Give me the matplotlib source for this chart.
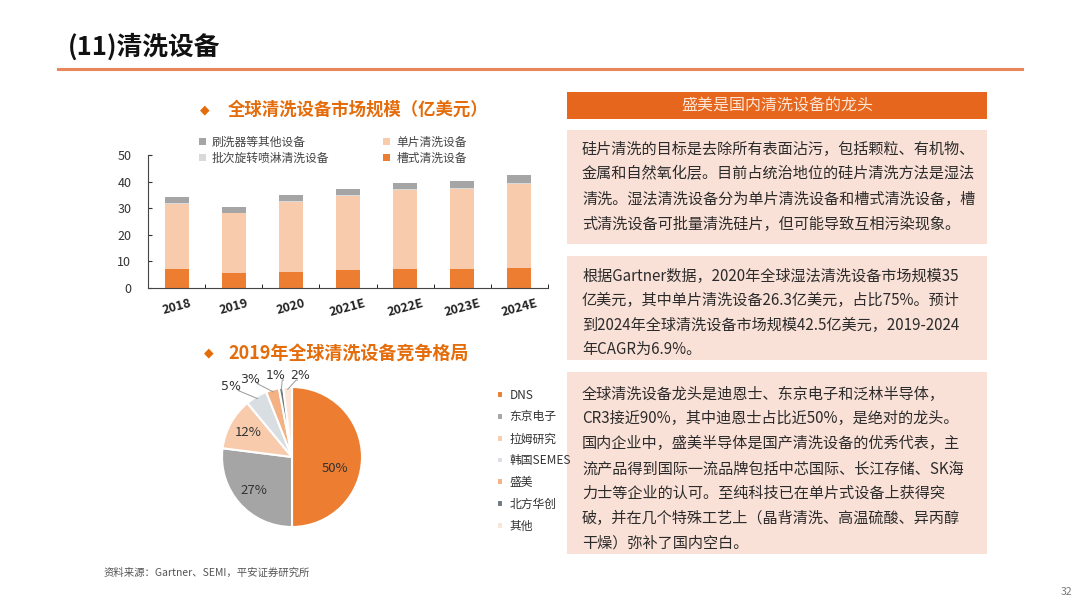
import matplotlib
matplotlib.use('Agg')
import matplotlib.pyplot as plt
from matplotlib.patches import Rectangle
import numpy as np

plt.rcParams['font.family'] = ['Noto Sans CJK SC', 'DejaVu Sans']

# bar chart data (亿美元)
years = ['2018', '2019', '2020', '2021E', '2022E', '2023E', '2024E']
tank = [7.2, 5.5, 6.2, 6.8, 7.1, 7.1, 7.5]          # 槽式清洗设备
single = [24.4, 22.6, 26.3, 27.8, 29.9, 30.3, 31.7]  # 单片清洗设备
batch = [0.2, 0.2, 0.2, 0.2, 0.2, 0.2, 0.2]          # 批次旋转喷淋清洗设备
scrubber = [2.5, 2.1, 2.4, 2.6, 2.3, 2.8, 3.0]       # 刷洗器等其他设备

# pie data (2019)
companies = ['DNS', '东京电子', '拉姆研究', '韩国SEMES', '盛美', '北方华创', '其他']
shares = [50, 27, 12, 5, 3, 1, 2]
pie_colors = ['#ED7D31', '#A5A5A5', '#F8CBAD', '#D9DEE3', '#F4B183', '#6F7A80', '#FBE5D6']

orange = '#E46C0A'
pink = '#FAE1D7'
W, H = 1080, 607

fig = plt.figure(figsize=(10.8, 6.07), dpi=100)

def px(x, y):
    return x / W, 1 - y / H

# page title and rule
fig.text(*px(68, 47), '(11)清洗设备', fontsize=18.5, fontweight='bold', va='center', ha='left', color='#111111')
fig.add_artist(plt.Line2D([58 / W, 1022 / W], [1 - 69 / H] * 2, color='#E8875A', lw=2.2))

# bar chart title
fig.text(*px(205, 110), '◆', fontsize=9, color=orange, va='center', ha='center', family='DejaVu Sans')
fig.text(*px(228, 110), '全球清洗设备市场规模（亿美元）', fontsize=12.5, fontweight='bold', color=orange, va='center')

# stacked bars
ax = fig.add_axes([148 / W, 1 - 288 / H, 400 / W, 133 / H])
x = np.arange(len(years))
bw = 0.42
b1 = ax.bar(x, tank, bw, color='#ED7D31', label='槽式清洗设备')
b2 = ax.bar(x, single, bw, bottom=tank, color='#F8CBAD', label='单片清洗设备')
bot3 = np.array(tank) + np.array(single)
b3 = ax.bar(x, batch, bw, bottom=bot3, color='#D9D9D9', label='批次旋转喷淋清洗设备')
b4 = ax.bar(x, scrubber, bw, bottom=bot3 + np.array(batch), color='#A5A5A5', label='刷洗器等其他设备')
ax.set_xlim(-0.5, len(years) - 0.5)
ax.set_ylim(0, 50)
ax.set_yticks([0, 10, 20, 30, 40, 50])
ax.tick_params(axis='y', direction='in', length=3, labelsize=9, colors='#333333', pad=12)
ax.set_xticks(x)
ax.set_xticklabels(years, rotation=15, fontsize=9, fontweight='bold', color='#222222')
ax.tick_params(axis='x', length=0, pad=6)
ax.set_xticks(np.arange(-0.5, len(years), 1), minor=True)
ax.tick_params(axis='x', which='minor', direction='in', length=3)
for s in ['top', 'right']:
    ax.spines[s].set_visible(False)
ax.spines['left'].set_color('#444444')
ax.spines['bottom'].set_color('#444444')
# legend fills column by column
leg = fig.legend([b4, b3, b2, b1], ['刷洗器等其他设备', '批次旋转喷淋清洗设备', '单片清洗设备', '槽式清洗设备'],
                 ncol=2, loc='center left', bbox_to_anchor=(188 / W, 1 - 150 / H), frameon=False,
                 fontsize=8.5, handlelength=0.6, handleheight=0.6, handletextpad=0.5,
                 columnspacing=4.6, labelspacing=0.25)
for t in leg.get_texts():
    t.set_color('#444444')

# pie title
fig.text(*px(209, 353), '◆', fontsize=9, color=orange, va='center', ha='center', family='DejaVu Sans')
fig.text(*px(228, 353), '2019年全球清洗设备竞争格局', fontsize=13, fontweight='bold', color=orange, va='center')

# pie
pax = fig.add_axes([222 / W, 1 - 527 / H, 140 / W, 140 / H])
wedges, _ = pax.pie(shares, colors=pie_colors, startangle=90, counterclock=False,
                    wedgeprops=dict(edgecolor='white', linewidth=1.5))
pax.set_xlim(-1, 1)
pax.set_ylim(-1, 1)
pax.set_aspect('equal')
outside = {3: (-0.87, 1.01), 4: (-0.6, 1.11), 5: (-0.24, 1.16), 6: (0.11, 1.16)}
for i, w in enumerate(wedges):
    ang = np.deg2rad((w.theta1 + w.theta2) / 2)
    lab = f'{shares[i]}%'
    if i in outside:
        tx, ty = outside[i]
        ex, ey = 0.97 * np.cos(ang), 0.97 * np.sin(ang)
        pax.plot([ex, tx + (0.1 if tx < 0 else -0.05), tx + (0.12 if tx < 0 else -0.03)],
                 [ey, ty - 0.06, ty - 0.06], color='#999999', lw=0.7, clip_on=False)
        pax.text(tx, ty, lab, fontsize=9, ha='center', va='center', color='#333333', family='DejaVu Sans')
    else:
        r = 0.62 if i == 0 else 0.72
        dy = -0.16 if i == 0 else 0
        pax.text(r * np.cos(ang), r * np.sin(ang) + dy, lab, fontsize=9.5, ha='center', va='center',
                 color='#333333')
pleg = fig.legend(wedges, companies, loc='upper left', bbox_to_anchor=(486 / W, 1 - 378 / H), frameon=False,
                  fontsize=8.5, handlelength=0.5, handleheight=0.5, handletextpad=0.6, labelspacing=0.75)
for t in pleg.get_texts():
    t.set_color('#333333')

# right side boxes
def box(x0, y0, x1, y1, color):
    fig.add_artist(Rectangle((x0 / W, 1 - y1 / H), (x1 - x0) / W, (y1 - y0) / H,
                             transform=fig.transFigure, facecolor=color, edgecolor='none', zorder=0))

box(567, 92, 987, 119, '#E5661C')
fig.text(*px(777, 106), '盛美是国内清洗设备的龙头', fontsize=11.5, color='#FCE6D8', ha='center', va='center')

box(567, 130, 987, 244, pink)
lines1 = ['硅片清洗的目标是去除所有表面沾污，包括颗粒、有机物、',
          '金属和自然氧化层。目前占统治地位的硅片清洗方法是湿法',
          '清洗。湿法清洗设备分为单片清洗设备和槽式清洗设备，槽',
          '式清洗设备可批量清洗硅片，但可能导致互相污染现象。']
for i, s in enumerate(lines1):
    fig.text(*px(582, 149 + 25 * i), s, fontsize=10.9, color='#2b2b2b', va='center')

box(567, 256, 987, 360, pink)
lines2 = ['根据Gartner数据，2020年全球湿法清洗设备市场规模35',
          '亿美元，其中单片清洗设备26.3亿美元，占比75%。预计',
          '到2024年全球清洗设备市场规模42.5亿美元，2019-2024',
          '年CAGR为6.9%。']
for i, s in enumerate(lines2):
    fig.text(*px(582, 276 + 24.5 * i), s, fontsize=10.9, color='#2b2b2b', va='center')

box(567, 372, 987, 554, pink)
lines3 = ['全球清洗设备龙头是迪恩士、东京电子和泛林半导体，',
          'CR3接近90%，其中迪恩士占比近50%，是绝对的龙头。',
          '国内企业中，盛美半导体是国产清洗设备的优秀代表，主',
          '流产品得到国际一流品牌包括中芯国际、长江存储、SK海',
          '力士等企业的认可。至纯科技已在单片式设备上获得突',
          '破，并在几个特殊工艺上（晶背清洗、高温硫酸、异丙醇',
          '干燥）弥补了国内空白。']
for i, s in enumerate(lines3):
    fig.text(*px(582, 394 + 24.9 * i), s, fontsize=10.9, color='#2b2b2b', va='center')

# source and page number
fig.text(*px(104, 573), '资料来源：Gartner、SEMI，平安证券研究所', fontsize=7.5, color='#555555', va='center')
fig.text(*px(1072, 592), '32', fontsize=7.5, color='#777777', va='center', ha='right')

fig.savefig('out.png', dpi=100)
